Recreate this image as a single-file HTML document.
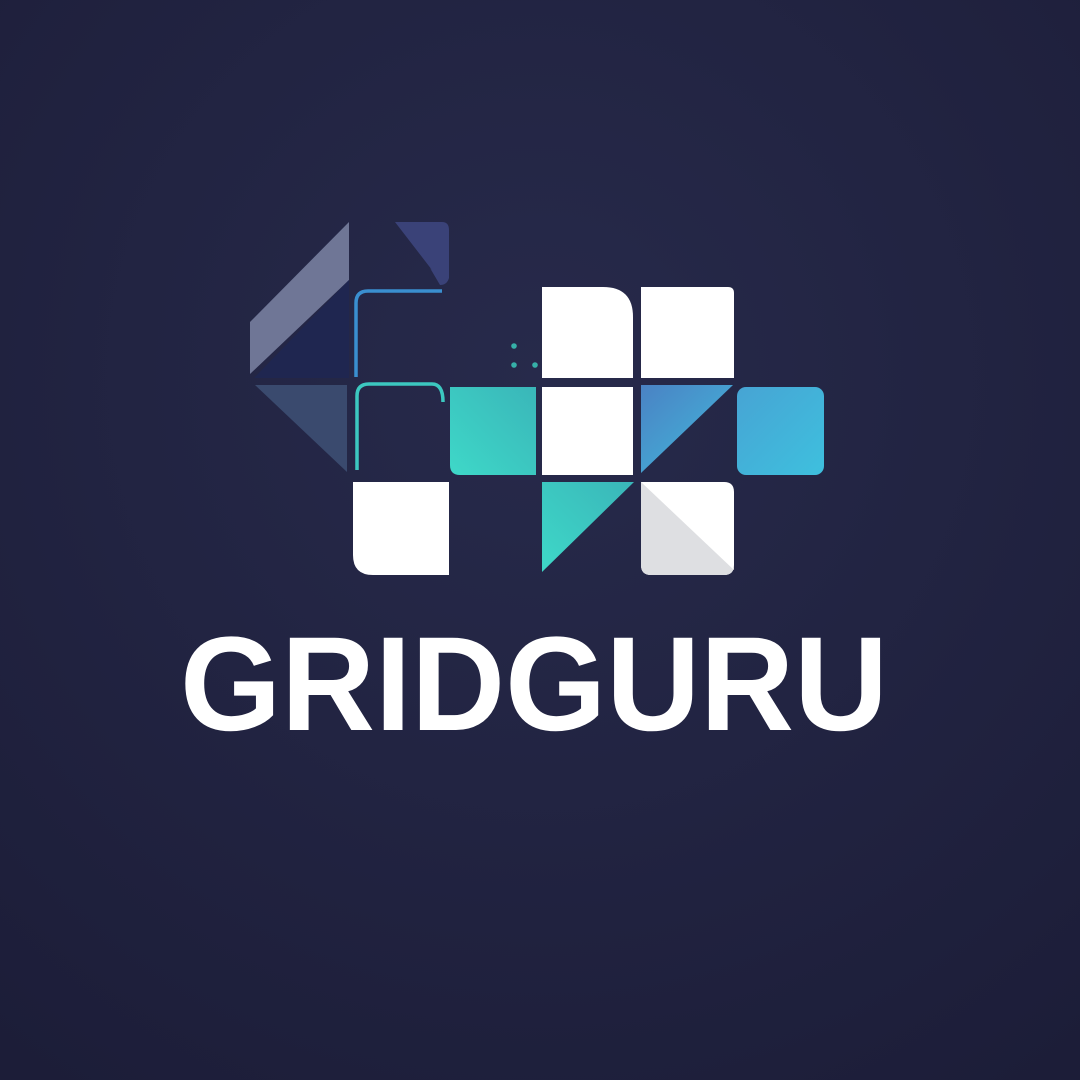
<!DOCTYPE html>
<html><head><meta charset="utf-8"><style>
html,body{margin:0;padding:0;width:1080px;height:1080px;overflow:hidden;background:#1f2140}
svg{display:block}
</style></head><body>
<svg width="1080" height="1080" viewBox="0 0 1080 1080">
<defs>
<radialGradient id="bg" cx="0.5" cy="0.35" r="0.8">
<stop offset="0" stop-color="#272a4b"/><stop offset="1" stop-color="#1c1d38"/>
</radialGradient>
<linearGradient id="teal" x1="0" y1="1" x2="1" y2="0"><stop offset="0" stop-color="#3ed8c8"/><stop offset="1" stop-color="#3ab6b9"/></linearGradient>
<linearGradient id="blueTri" x1="0" y1="0" x2="1" y2="1"><stop offset="0" stop-color="#4a82c4"/><stop offset="1" stop-color="#42bbdc"/></linearGradient>
<linearGradient id="blueSq" x1="0" y1="0" x2="1" y2="1"><stop offset="0" stop-color="#47a4d4"/><stop offset="1" stop-color="#3ec0de"/></linearGradient>
</defs>
<rect width="1080" height="1080" fill="url(#bg)"/>
<g>
<polygon points="349,222 349,280 250,374 250,322" fill="#6f7696"/>
<polygon points="349,280 349,378 254,378" fill="#1f2650"/>
<path d="M395,222 L442,222 Q449,222 449,230 L449,278 Q447,285 440,285 L430,268 L432,270 Z" fill="#3a4278"/>
<path d="M442,291 L368,291 Q356,291 356,303 L356,377" fill="none" stroke="#3a8fd0" stroke-width="3.5"/>
<path d="M357,470 L357,396 Q357,384 369,384 L432,384 Q443,384 443,402" fill="none" stroke="#3cc8c0" stroke-width="3.5"/>
<polygon points="255,385 347,385 347,472" fill="#3a4a6e"/>
<path d="M450,387 L536,387 L536,475 L460,475 Q450,475 450,465 Z" fill="url(#teal)"/>
<path d="M542,287 L603,287 Q633,287 633,317 L633,378 L542,378 Z" fill="#ffffff"/>
<path d="M641,287 L728,287 Q734,287 734,293 L734,378 L641,378 Z" fill="#ffffff"/>
<rect x="542" y="387" width="91" height="88" fill="#ffffff"/>
<polygon points="641,385 733,385 641,473" fill="url(#blueTri)"/>
<rect x="737" y="387" width="87" height="88" rx="9" fill="url(#blueSq)"/>
<path d="M353,482 L449,482 L449,575 L373,575 Q353,575 353,555 Z" fill="#ffffff"/>
<polygon points="542,482 634,482 542,572" fill="url(#teal)"/>
<path d="M641,482 L724,482 Q734,482 734,492 L734,565 Q734,575 724,575 L651,575 Q641,575 641,565 Z" fill="#ffffff"/>
<path d="M641,482 L734,570 L734,565 Q734,575 724,575 L651,575 Q641,575 641,565 Z" fill="#dedfe2"/>
<circle cx="514" cy="346" r="2.8" fill="#36b0a8"/>
<circle cx="514" cy="365" r="2.8" fill="#36b0a8"/>
<circle cx="535" cy="365" r="2.8" fill="#36b0a8"/>
</g>
<text x="180" y="730" textLength="708" lengthAdjust="spacingAndGlyphs" font-family="'Liberation Sans', sans-serif" font-weight="bold" font-size="134" fill="#ffffff">GRIDGURU</text>
</svg>
</body></html>
